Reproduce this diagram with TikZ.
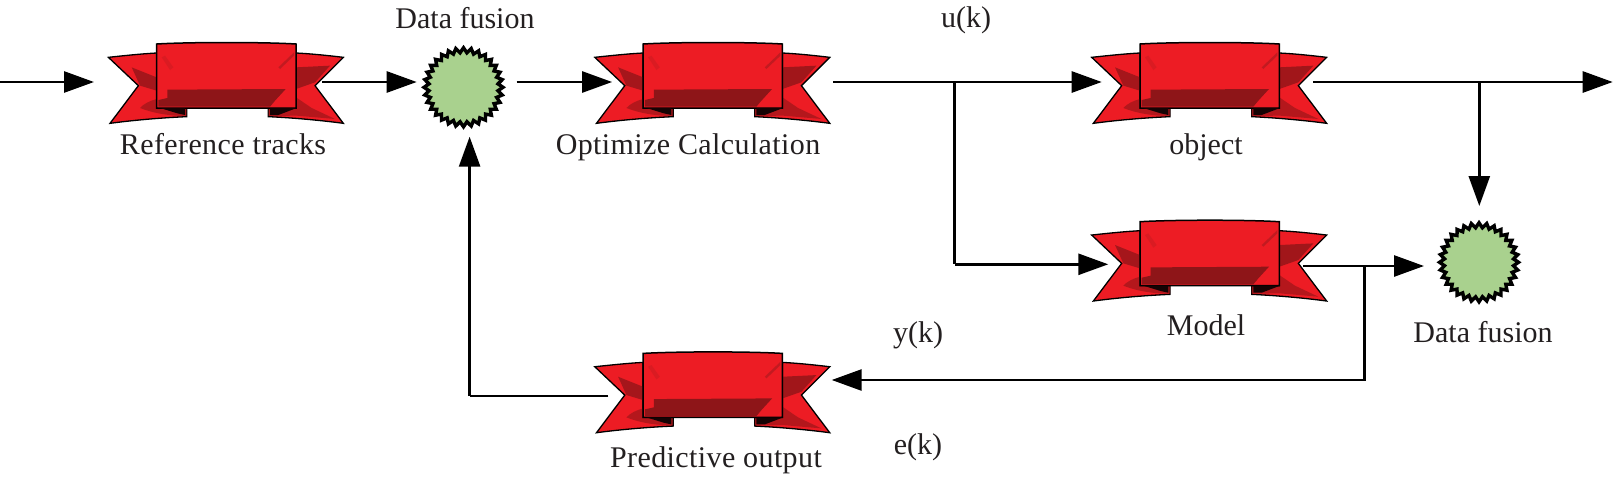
\documentclass[tikz,border=0pt]{standalone}
\usepackage{fontspec}
\setmainfont{Liberation Serif}
\usetikzlibrary{arrows.meta,shapes.geometric}
\definecolor{bred}{HTML}{ED1C24}
\definecolor{bdark}{HTML}{8E1518}
\definecolor{bmid}{HTML}{B81A20}
\definecolor{bgreen}{HTML}{A9D18E}
\definecolor{ink}{HTML}{231F20}
\tikzset{
  x=1pt,y=-1pt,
  conn/.style={line width=2.7pt,draw=black,line join=miter},
  arr/.style={conn,-{Triangle[length=30pt,width=21pt]}},
  lab/.style={anchor=base,text=ink,font=\fontsize{30}{31}\selectfont,inner sep=0pt},
  labw/.style={lab,font=\fontsize{30}{31}\selectfont\addfontfeature{LetterSpace=1.3}},
  fusion/.style={star,star points=32,star point ratio=1.14,minimum size=79pt,inner sep=0pt,
     fill=bgreen,draw=black,line width=3.4pt,line join=miter},
  bandanchor/.style={inner sep=0pt,minimum width=235pt,minimum height=81pt},
  bandline/.style={draw=black,line width=1.3pt,line join=miter},
}
\newcommand{\banner}[3]{%
  \node[bandanchor] (#1) at (#2,#3) {};
  \begin{scope}[shift={(#2,#3)}]
  \begin{scope}[x=.3333pt,y=-.3333pt,shift={(-407,-190)}]
    % tails
    \path[fill=bred,bandline] (55,110) .. controls (110,104) and (160,99) .. (200,97) -- (200,262) -- (290,262) -- (290,288)
       .. controls (200,292) and (120,300) .. (60,308) -- (145,195) -- cycle;
    \path[fill=bred,bandline] (760,110) .. controls (710,104) and (660,99) .. (618,97) -- (618,262) -- (535,262) -- (535,288)
       .. controls (620,292) and (700,300) .. (760,308) -- (675,195) -- cycle;
    % tail shadows
    \fill[bdark,opacity=.75] (125,140) -- (200,170) -- (200,210) -- (150,195) -- cycle;
    \fill[bdark,opacity=.6] (150,262) .. controls (160,250) and (180,240) .. (200,235) -- (290,262) -- (290,286) .. controls (240,286) and (190,278) .. (150,262) -- cycle;
    \fill[bdark,opacity=.8] (618,140) -- (720,135) -- (675,185) -- (618,205) -- cycle;
    \fill[bdark,opacity=.6] (535,262) -- (618,230) -- (665,262) -- (735,295) -- (620,285) -- (535,286) -- cycle;
    % centre panel
    \path[fill=bred] (200,70) .. controls (300,64) and (520,64) .. (618,70) -- (618,262) -- (200,262) -- cycle;
    \fill[bdark] (232,207) -- (587,205) -- (555,240) -- (540,258) -- (205,258) -- (205,238) -- (232,232) -- cycle;
    \fill[bmid,opacity=.8] (565,140) -- (612,95) -- (612,105) -- (570,145) -- cycle;
    \fill[bmid,opacity=.35] (215,110) -- (225,105) -- (250,140) -- (240,148) -- cycle;
    \draw[black,line width=1.5pt] (200,70) .. controls (300,64) and (520,64) .. (618,70) -- (618,262) -- (200,262) -- cycle;
    % flap folds
    \fill[black!85!bdark] (210,262) -- (285,262) -- (285,283) -- (262,278) -- cycle;
    \fill[black!85!bdark] (540,262) -- (620,262) -- (565,283) -- (540,283) -- cycle;
  \end{scope}
  \end{scope}
}
\begin{document}
\begin{tikzpicture}
\useasboundingbox (0,0) rectangle (1613,477);
\banner{bref}{225.7}{84}
\banner{bopt}{712.1}{84}
\banner{bobj}{1209}{84}
\banner{bmod}{1209}{261.7}
\banner{bpre}{712.1}{393.4}
\node[fusion] (fa) at (463.5,87.3) {};
\node[fusion] (fb) at (1479,262.3) {};
% free ends and junctions
\coordinate (start) at (0,82);
\coordinate (end) at (1612.7,82);
\coordinate (ju) at (954.7,82);
\coordinate (jo) at (1479.3,82);
\coordinate (jm) at (1364.7,266);
\coordinate (cu) at (954.7,264.3);
\coordinate (cm) at (1364.7,380);
\coordinate (cp) at (469.6,396);
% connectors
\draw[arr] (start) -- ([shift={(-131.7,-2)}]bref.center);
\draw[arr] ([shift={(96.3,-2)}]bref.center) -- ([shift={(-46.8,-5.3)}]fa.center);
\draw[arr] ([shift={(53.2,-5.3)}]fa.center) -- ([shift={(-100,-2)}]bopt.center);
\draw[conn] ([shift={(121.2,-2)}]bopt.center) -- (ju);
\draw[arr] (ju) -- ([shift={(-107.3,-2)}]bobj.center);
\draw[conn] (ju) -- (cu);
\draw[arr] (cu) -- ([shift={(-100.7,2.6)}]bmod.center);
\draw[conn] ([shift={(104.3,-2)}]bobj.center) -- (jo);
\draw[arr] (jo) -- (end);
\draw[arr] (jo) -- ([shift={(.3,-56.3)}]fb.center);
\draw[conn] ([shift={(94.3,4.3)}]bmod.center) -- (jm);
\draw[arr] (jm) -- ([shift={(-55,3.7)}]fb.center);
\draw[arr] (jm) -- (cm) -- ([shift={(119.6,-13.4)}]bpre.center);
\draw[conn] ([shift={(-103.8,2.6)}]bpre.center) -- (cp);
\draw[arr] (cp) -- ([shift={(6.1,49.4)}]fa.center);
% labels
\node[lab] (l1) at (465,28) {Data fusion};
\node[labw] (l2) at (223,154) {Reference tracks};
\node[labw] (l3) at (688,154) {Optimize Calculation};
\node[lab] (l4) at (1206,154) {object};
\node[lab] (l5) at (1206,335) {Model};
\node[lab] (l6) at (1483,342.7) {Data fusion};
\node[labw] (l7) at (716,467) {Predictive output};
\node[lab] (l8) at (966,27) {u(k)};
\node[lab] (l9) at (918,342) {y(k)};
\node[lab] (l10) at (918,454) {e(k)};
\end{tikzpicture}
\end{document}
